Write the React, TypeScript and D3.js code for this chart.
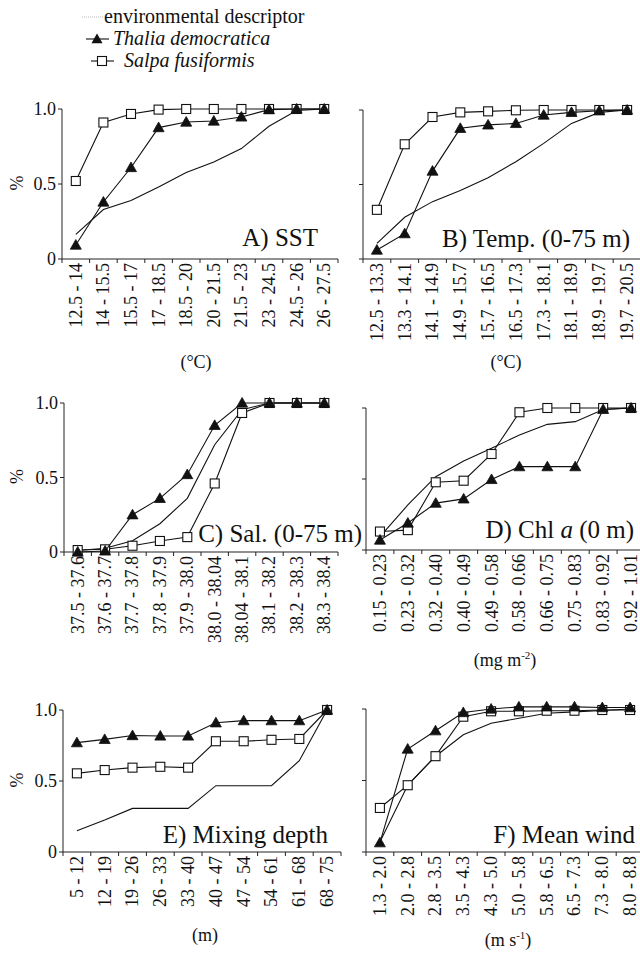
import React from "react";
import * as d3 from "d3";

// ---------- data ----------
const catsA = ["12.5 - 14", "14 - 15.5", "15.5 - 17", "17 - 18.5", "18.5 - 20", "20 - 21.5", "21.5 - 23", "23 - 24.5", "24.5 - 26", "26 - 27.5"];
const envA = [0.164, 0.33, 0.39, 0.48, 0.576, 0.647, 0.736, 0.885, 0.99, 1.0];
const thaliaA = [0.093, 0.38, 0.61, 0.876, 0.913, 0.92, 0.947, 0.996, 1.0, 1.0];
const salpaA = [0.52, 0.91, 0.967, 0.996, 1.0, 1.0, 1.0, 1.0, 1.0, 1.0];

const catsB = ["12.5 - 13.3", "13.3 - 14.1", "14.1 - 14.9", "14.9 - 15.7", "15.7 - 16.5", "16.5 - 17.3", "17.3 - 18.1", "18.1 - 18.9", "18.9 - 19.7", "19.7 - 20.5"];
const envB = [0.105, 0.28, 0.385, 0.46, 0.546, 0.653, 0.776, 0.91, 0.984, 1.0];
const thaliaB = [0.06, 0.17, 0.59, 0.877, 0.9, 0.91, 0.966, 0.984, 0.995, 1.0];
const salpaB = [0.33, 0.77, 0.953, 0.984, 0.991, 0.998, 1.0, 1.0, 1.0, 1.0];

const catsC = ["37.5 - 37.6", "37.6 - 37.7", "37.7 - 37.8", "37.8 - 37.9", "37.9 - 38.0", "38.0 - 38.04", "38.04 - 38.1", "38.1 - 38.2", "38.2 - 38.3", "38.3 - 38.4"];
const envC = [0.01, 0.025, 0.076, 0.19, 0.36, 0.72, 0.955, 1.0, 1.0, 1.0];
const thaliaC = [0.0, 0.007, 0.25, 0.36, 0.52, 0.85, 1.0, 1.0, 1.0, 1.0];
const salpaC = [0.013, 0.018, 0.042, 0.074, 0.1, 0.46, 0.933, 1.0, 1.0, 1.0];

const catsD = ["0.15 - 0.23", "0.23 - 0.32", "0.32 - 0.40", "0.40 - 0.49", "0.49 - 0.58", "0.58 - 0.66", "0.66 - 0.75", "0.75 - 0.83", "0.83 - 0.92", "0.92 - 1.01"];
const envD = [0.094, 0.317, 0.516, 0.627, 0.716, 0.81, 0.885, 0.904, 0.99, 1.0];
const thaliaD = [0.07, 0.19, 0.33, 0.36, 0.497, 0.587, 0.587, 0.587, 0.99, 1.0];
const salpaD = [0.13, 0.14, 0.477, 0.488, 0.676, 0.97, 1.0, 1.0, 1.0, 1.0];

const catsE = ["5 - 12", "12 - 19", "19 - 26", "26 - 33", "33 - 40", "40 - 47", "47 - 54", "54 - 61", "61 - 68", "68 - 75"];
const envE = [0.15, 0.225, 0.307, 0.307, 0.307, 0.467, 0.467, 0.467, 0.643, 1.0];
const thaliaE = [0.77, 0.793, 0.82, 0.817, 0.817, 0.91, 0.925, 0.925, 0.925, 1.0];
const salpaE = [0.554, 0.577, 0.594, 0.6, 0.594, 0.78, 0.78, 0.79, 0.796, 1.0];

const catsF = ["1.3 - 2.0", "2.0 - 2.8", "2.8 - 3.5", "3.5 - 4.3", "4.3 - 5.0", "5.0 - 5.8", "5.8 - 6.5", "6.5 - 7.3", "7.3 - 8.0", "8.0 - 8.8"];
const envF = [0.07, 0.467, 0.67, 0.82, 0.9, 0.935, 0.97, 0.98, 0.99, 1.0];
const thaliaF = [0.065, 0.72, 0.848, 0.975, 1.0, 1.015, 1.015, 1.015, 1.01, 1.01];
const salpaF = [0.308, 0.467, 0.67, 0.946, 0.984, 0.984, 0.988, 0.988, 0.993, 0.993];

const yTicks = [0, 0.5, 1.0];
const yTickLabels = ["0", "0.5", "1.0"];
const legendLabels = ["environmental descriptor", "Thalia democratica", "Salpa fusiformis"];

// ---------- layout ----------
const FONT = "'Liberation Serif', 'Times New Roman', serif";

type Panel = {
  cats: string[];
  env: number[];
  thalia: number[];
  salpa: number[];
  x0: number;
  step: number;
  yTop: number;
  yBot: number;
  left: boolean;
  title: React.ReactNode;
  titleX: number;
  titleY: number;
  unit?: React.ReactNode;
  unitX?: number;
  unitY?: number;
};

const panels: Panel[] = [
  { cats: catsA, env: envA, thalia: thaliaA, salpa: salpaA, x0: 62, step: 27.6, yTop: 109, yBot: 259, left: true,
    title: "A) SST", titleX: 318, titleY: 246, unit: "(°C)", unitX: 196, unitY: 368 },
  { cats: catsB, env: envB, thalia: thaliaB, salpa: salpaB, x0: 363, step: 27.8, yTop: 110, yBot: 259, left: false,
    title: "B) Temp. (0-75 m)", titleX: 630, titleY: 247, unit: "(°C)", unitX: 506, unitY: 368 },
  { cats: catsC, env: envC, thalia: thaliaC, salpa: salpaC, x0: 64, step: 27.4, yTop: 403, yBot: 552, left: true,
    title: "C) Sal. (0-75 m)", titleX: 362, titleY: 542 },
  { cats: catsD, env: envD, thalia: thaliaD, salpa: salpaD, x0: 366, step: 27.9, yTop: 408, yBot: 550, left: false,
    title: (<>D) Chl <tspan fontStyle="italic">a</tspan> (0 m)</>), titleX: 634, titleY: 538,
    unit: (<>(mg m<tspan fontSize="11" dy="-7">-2</tspan><tspan dy="7">)</tspan></>), unitX: 505, unitY: 666 },
  { cats: catsE, env: envE, thalia: thaliaE, salpa: salpaE, x0: 63, step: 27.8, yTop: 710, yBot: 852, left: true,
    title: "E) Mixing depth", titleX: 328, titleY: 843, unit: "(m)", unitX: 205, unitY: 941 },
  { cats: catsF, env: envF, thalia: thaliaF, salpa: salpaF, x0: 366, step: 27.8, yTop: 709, yBot: 852, left: false,
    title: "F) Mean wind", titleX: 635, titleY: 843,
    unit: (<>(m s<tspan fontSize="11" dy="-7">-1</tspan><tspan dy="7">)</tspan></>), unitX: 508, unitY: 946 },
];

const triPath = (cx: number, cy: number, s = 5.5) =>
  `M${cx},${cy - s}L${cx + s},${cy + s * 0.75}L${cx - s},${cy + s * 0.75}Z`;

function PanelView({ p }: { p: Panel }) {
  const x = d3.scaleBand<string>().domain(p.cats).range([p.x0, p.x0 + p.step * p.cats.length]).paddingInner(0).paddingOuter(0);
  const y = d3.scaleLinear().domain([0, 1]).range([p.yBot, p.yTop]);
  const cx = (i: number) => (x(p.cats[i]) as number) + x.bandwidth() / 2;
  const line = d3.line<number>().x((_, i) => cx(i)).y((v) => y(v));
  const xEnd = p.x0 + p.step * p.cats.length;
  const boundaries = d3.range(p.cats.length + 1).map((k) => p.x0 + k * x.bandwidth());
  return (
    <g>
      {/* axes */}
      <line x1={p.x0} x2={p.x0} y1={y(1)} y2={y(0)} stroke="#222" strokeWidth={1} />
      <line x1={p.x0} x2={xEnd} y1={y(0)} y2={y(0)} stroke="#222" strokeWidth={1} />
      {boundaries.map((b, k) => (
        <line key={"xt" + k} x1={b} x2={b} y1={y(0)} y2={y(0) + 4} stroke="#222" strokeWidth={1} />
      ))}
      {yTicks.map((t, k) => (
        <g key={"yt" + k}>
          <line x1={p.x0 - 4} x2={p.x0} y1={y(t)} y2={y(t)} stroke="#222" strokeWidth={1} />
          {p.left && (
            <text x={p.x0 - 6} y={y(t)} dy="0.35em" textAnchor="end" fontSize={18} fontFamily={FONT} fill="#111">
              {yTickLabels[k]}
            </text>
          )}
        </g>
      ))}
      {p.left && (
        <text transform={`translate(17,${(y(0) + y(1)) / 2 - 1}) rotate(-90)`} textAnchor="middle" dy="0.35em" fontSize={18} fontFamily={FONT} fill="#111">
          %
        </text>
      )}
      {p.cats.map((c, i) => (
        <text key={"xl" + i} transform={`translate(${cx(i)},${y(0) + 4}) rotate(-90)`} textAnchor="end" dy="0.33em" fontSize={18} fontFamily={FONT} fill="#111">
          {c}
        </text>
      ))}
      {/* title */}
      <text x={p.titleX} y={p.titleY} textAnchor="end" fontSize={25} fontFamily={FONT} fill="#111">
        {p.title}
      </text>
      {p.unit && (
        <text x={p.unitX} y={p.unitY} textAnchor="middle" fontSize={18} fontFamily={FONT} fill="#111">
          {p.unit}
        </text>
      )}
      {/* env line */}
      <path d={line(p.env) || ""} fill="none" stroke="#111" strokeWidth={1.1} />
      {/* salpa */}
      <path d={line(p.salpa) || ""} fill="none" stroke="#111" strokeWidth={1.1} />
      {p.salpa.map((v, i) => (
        <rect key={"s" + i} x={cx(i) - 4.5} y={y(v) - 4.5} width={9} height={9} fill="#fff" stroke="#111" strokeWidth={1.1} />
      ))}
      {/* thalia */}
      <path d={line(p.thalia) || ""} fill="none" stroke="#111" strokeWidth={1.1} />
      {p.thalia.map((v, i) => (
        <path key={"t" + i} d={triPath(cx(i), y(v))} fill="#111" stroke="#111" strokeWidth={0.8} />
      ))}
    </g>
  );
}

export default function App() {
  return (
    <svg width={640} height={957} style={{ position: "absolute", left: 0, top: 0, background: "#fff" }}>
      <rect x={0} y={0} width={640} height={957} fill="#fff" />
      {/* legend */}
      <g fontFamily={FONT} fill="#111">
        <line x1={82} x2={103} y1={17} y2={17} stroke="#bbb" strokeWidth={1} strokeDasharray="1,1" />
        <text x={104} y={23} fontSize={20}>{legendLabels[0]}</text>
        <line x1={86} x2={109} y1={39} y2={39} stroke="#111" strokeWidth={1.1} />
        <path d={triPath(97, 39)} fill="#111" />
        <text x={113} y={45} fontSize={20} fontStyle="italic">{legendLabels[1]}</text>
        <line x1={91} x2={114} y1={61} y2={61} stroke="#111" strokeWidth={1.1} />
        <rect x={97.5} y={56.5} width={9} height={9} fill="#fff" stroke="#111" strokeWidth={1.1} />
        <text x={124} y={67} fontSize={20} fontStyle="italic">{legendLabels[2]}</text>
      </g>
      {panels.map((p, i) => (
        <PanelView key={i} p={p} />
      ))}
    </svg>
  );
}
